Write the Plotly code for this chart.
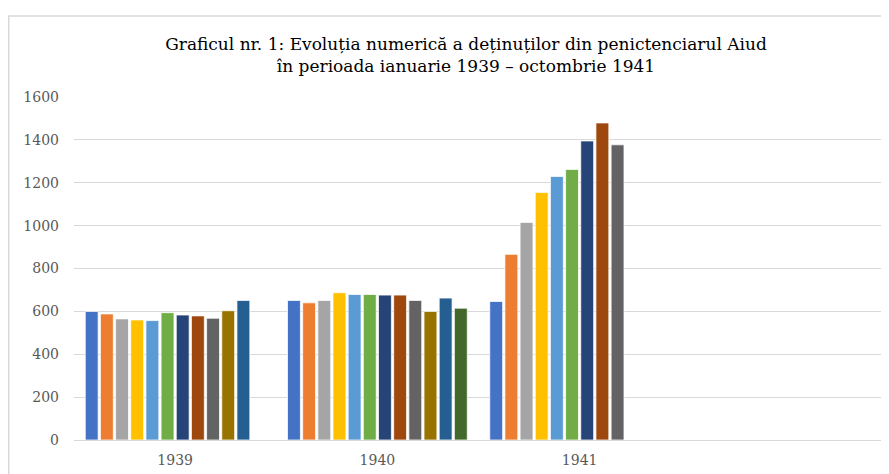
import plotly.graph_objects as go

years = ["1939", "1940", "1941"]
months = ["Ianuarie", "Februarie", "Martie", "Aprilie", "Mai", "Iunie",
          "Iulie", "August", "Septembrie", "Octombrie", "Noiembrie", "Decembrie"]

# values per month: [1939, 1940, 1941]
ianuarie = [600, 651, 646]
februarie = [588, 640, 866]
martie = [565, 651, 1015]
aprilie = [560, 687, 1155]
mai = [557, 679, 1229]
iunie = [594, 679, 1262]
iulie = [583, 676, 1395]
august = [579, 676, 1479]
septembrie = [568, 651, 1377]
octombrie = [603, 600, None]
noiembrie = [651, 662, None]
decembrie = [None, 615, None]

series = [ianuarie, februarie, martie, aprilie, mai, iunie,
          iulie, august, septembrie, octombrie, noiembrie, decembrie]
colors = ["#4472C4", "#ED7D31", "#A5A5A5", "#FFC000", "#5B9BD5", "#70AD47",
          "#264478", "#9E480E", "#636363", "#997300", "#255E91", "#43682B"]

fig = go.Figure()
for name, vals, col in zip(months, series, colors):
    fig.add_trace(go.Bar(x=years, y=vals, name=name,
                         marker=dict(color=col, line=dict(color="white", width=0.75)),
                         showlegend=False))

# page body has an 8px margin, so the figure is sized/positioned accordingly
W, H = 881, 466
L, R, T, B = 66, 6, 89, 32
pw, ph = W - L - R, H - T - B

fig.update_layout(
    width=W, height=H,
    margin=dict(l=L, r=R, t=T, b=B),
    paper_bgcolor="white", plot_bgcolor="white",
    barmode="group", bargap=0.1, bargroupgap=0.15,
    title=dict(text="Graficul nr. 1: Evoluția numerică a deținuților din penictenciarul Aiud<br>în perioada ianuarie 1939 – octombrie 1941",
               x=458 / W, xanchor="center", xref="container",
               y=1 - 42 / H, yanchor="top", yref="container",
               font=dict(family="DejaVu Serif", size=17, color="black")),
    font=dict(family="DejaVu Serif", size=14, color="#595959"),
    xaxis=dict(type="category", range=[-0.5, 3.5], showgrid=False,
               showline=False, ticks="", ticklabelstandoff=10,
               tickfont=dict(size=14, color="#595959")),
    yaxis=dict(range=[0, 1600], dtick=200, showgrid=True, gridcolor="#D9D9D9",
               gridwidth=1, zeroline=True, zerolinecolor="#D9D9D9", zerolinewidth=1,
               ticks="", ticklabelstandoff=14, showline=False,
               tickfont=dict(size=14, color="#595959")),
    shapes=[dict(type="rect", xref="paper", yref="paper",
                 x0=(0.75 - L) / pw, x1=2, y0=-1, y1=(H - B - 7.5) / ph,
                 line=dict(color="#D9D9D9", width=1.5), fillcolor="rgba(0,0,0,0)",
                 layer="below")],
)

fig.write_html("out.html")
